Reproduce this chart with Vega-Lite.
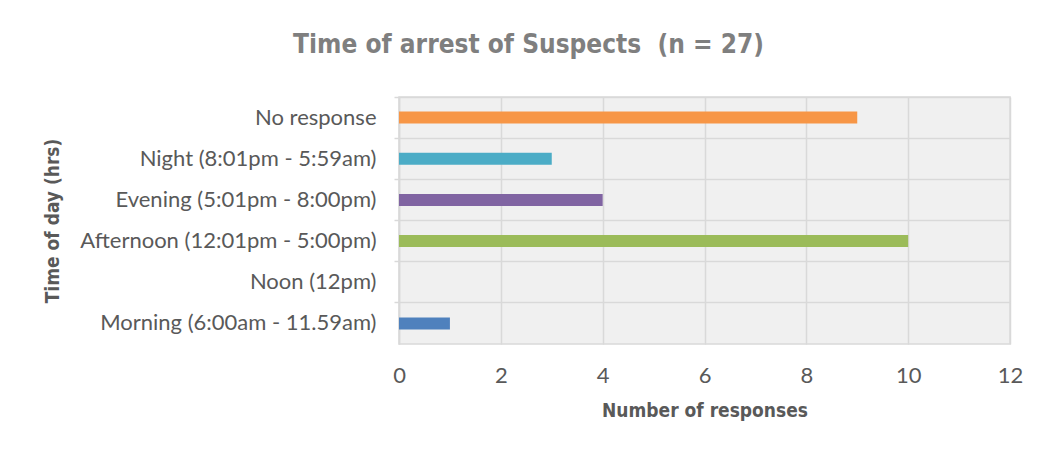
{
  "$schema": "https://vega.github.io/schema/vega-lite/v6.json",
  "width": 611,
  "height": 247,
  "autosize": {"type": "none"},
  "padding": {"left": 399, "top": 97, "right": 38, "bottom": 113},
  "background": "white",
  "title": {
    "text": "Time of arrest of Suspects \u00a0(n = 27)",
    "font": "Liberation Sans Narrow, DejaVu Sans Condensed, Roboto",
    "fontSize": 26,
    "fontWeight": "bold",
    "color": "#7f7f7f",
    "anchor": "middle",
    "dx": -176,
    "offset": 38
  },
  "config": {
    "view": {"stroke": "#d9d9d9", "strokeWidth": 1.5, "fill": "#f0f0f0"},
    "axis": {
      "labelFont": "Lato",
      "labelColor": "#595959",
      "titleFont": "Liberation Sans Narrow, DejaVu Sans Condensed, Roboto",
      "titleColor": "#595959",
      "titleFontWeight": "bold",
      "gridColor": "#d9d9d9",
      "gridWidth": 1.5,
      "domainColor": "#d9d9d9",
      "tickColor": "#d9d9d9"
    }
  },
  "data": {
    "values": [
      {"category": "No response", "count": 9, "color": "#f79646"},
      {"category": "Night (8:01pm - 5:59am)", "count": 3, "color": "#4bacc6"},
      {"category": "Evening (5:01pm - 8:00pm)", "count": 4, "color": "#8064a2"},
      {"category": "Afternoon (12:01pm - 5:00pm)", "count": 10, "color": "#9bbb59"},
      {"category": "Noon (12pm)", "count": 0, "color": "#c0504d"},
      {"category": "Morning (6:00am - 11.59am)", "count": 1, "color": "#4f81bd"}
    ]
  },
  "mark": {"type": "bar", "height": 12},
  "encoding": {
    "y": {
      "field": "category",
      "type": "nominal",
      "sort": null,
      "scale": {"paddingInner": 0, "paddingOuter": 0},
      "axis": {
        "title": "Time of day (hrs)",
        "titleFontSize": 19,
        "titleX": -347,
        "titleY": 123.5,
        "titleBaseline": "middle",
        "titleAngle": -90,
        "titleAlign": "center",
        "labelFontSize": 22,
        "labelLimit": 0,
        "labelPadding": 18,
        "tickSize": 5,
        "tickWidth": 1.5,
        "bandPosition": 0,
        "grid": true,
        "domain": true,
        "domainWidth": 1.5
      }
    },
    "x": {
      "field": "count",
      "type": "quantitative",
      "scale": {"domain": [0, 12], "nice": false},
      "axis": {
        "title": "Number of responses",
        "titleFontSize": 19,
        "titlePadding": 15,
        "labelFontSize": 22,
        "labelPadding": 21,
        "labelFlush": false,
        "values": [0, 2, 4, 6, 8, 10, 12],
        "ticks": false,
        "domain": false,
        "grid": true
      }
    },
    "color": {"field": "color", "type": "nominal", "scale": null, "legend": null}
  }
}
